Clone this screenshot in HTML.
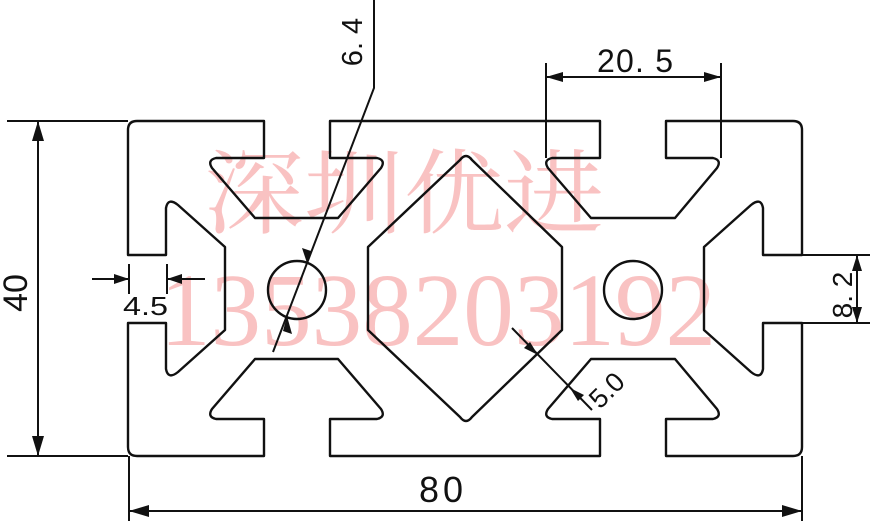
<!DOCTYPE html>
<html><head><meta charset="utf-8"><style>
html,body{margin:0;padding:0;background:#fff;}
svg{display:block;}
text{font-family:"Liberation Sans",sans-serif;fill:#111;}
</style></head><body>
<svg width="870" height="523" viewBox="0 0 870 523" xmlns="http://www.w3.org/2000/svg">
<g fill="#f9c2c2">
<text x="204" y="226" font-size="92" textLength="400" lengthAdjust="spacingAndGlyphs" style="font-family:'Noto Serif CJK SC','Noto Sans CJK SC',serif;fill:#f9c2c2">深圳优进</text>
<text x="160" y="345" font-size="104" textLength="556" lengthAdjust="spacingAndGlyphs" style="font-family:'Liberation Serif',serif;fill:#f9c2c2">13538203192</text>
</g>
<g fill="none" stroke="#111" stroke-width="2.4" stroke-linejoin="round">
<path d="M128,130 Q128,121 137,121 L264,121 L264,158 L216,158 Q207,160 212,168 L255,218 L338,218 L381,168 Q386,160 377,158 L330,158 L330,121 L600,121 L600,158 L552,158 Q543,160 548,168 L591,218 L675,218 L717,168 Q722,160 713,158 L666,158 L666,121 L793,121 Q802,121 802,130 L802,255 L763,255 L763,208 Q761,197 751,205 L704,247 L704,330 L751,372 Q761,380 763,369 L763,323 L802,323 L802,447 Q802,456 793,456 L666,456 L666,419 L713,419 Q722,417 717,409 L675,359 L591,359 L548,409 Q543,417 552,419 L600,419 L600,456 L330,456 L330,419 L377,419 Q386,417 381,409 L338,359 L255,359 L212,409 Q207,417 216,419 L264,419 L264,456 L137,456 Q128,456 128,447 L128,323 L166,323 L166,369 Q168,380 178,372 L225,330 L225,247 L178,205 Q168,197 166,208 L166,255 L128,255 Z"/>
<path d="M460,160 Q466,152 472,160 L562,247 L562,330 L472,417 Q466,425 460,417 L368,330 L368,247 Z"/>
<circle cx="297" cy="290" r="29"/>
<circle cx="633" cy="290" r="29"/>
</g>
<g stroke="#111" stroke-width="2" fill="none">
<line x1="7" y1="121" x2="128" y2="121"/>
<line x1="7" y1="456" x2="128" y2="456"/>
<line x1="38" y1="121" x2="38" y2="456"/>
<line x1="129" y1="456" x2="129" y2="521"/>
<line x1="802" y1="456" x2="802" y2="521"/>
<line x1="129" y1="511" x2="802" y2="511"/>
<line x1="546" y1="63" x2="546" y2="158"/>
<line x1="721" y1="63" x2="721" y2="158"/>
<line x1="546" y1="77" x2="721" y2="77"/>
<line x1="802" y1="255" x2="870" y2="255"/>
<line x1="802" y1="323" x2="870" y2="323"/>
<line x1="857" y1="255" x2="857" y2="323"/>
<line x1="129" y1="264" x2="129" y2="294"/>
<line x1="167" y1="264" x2="167" y2="294"/>
<line x1="92" y1="279" x2="129" y2="279"/>
<line x1="167" y1="279" x2="205" y2="279"/>
<polyline points="374,0 374,88 273,352"/>
<line x1="512" y1="328" x2="592" y2="410"/>
</g>
<g fill="#111">
<polygon points="38,121 32,141 44,141"/>
<polygon points="38,456 32,436 44,436"/>
<polygon points="129,511 149,505 149,517"/>
<polygon points="802,511 782,505 782,517"/>
<polygon points="546,77 563,72 563,82"/>
<polygon points="721,77 704,72 704,82"/>
<polygon points="857,255 852,271 862,271"/>
<polygon points="857,323 852,307 862,307"/>
<polygon points="129,279 114,274 114,284"/>
<polygon points="167,279 182,274 182,284"/>
<polygon points="307,263 302,248 311,251"/>
<polygon points="287,316 283,331 292,334"/>
<polygon points="538,355 530,342 524,348"/>
<polygon points="570,388 578,401 584,395"/>
</g>
<text x="443" y="502" font-size="36" text-anchor="middle" letter-spacing="4">80</text>
<text x="597" y="72" font-size="32" textLength="76" lengthAdjust="spacing">20. 5</text>
<text x="123" y="315" font-size="26" textLength="45" lengthAdjust="spacingAndGlyphs">4.5</text>
<text transform="translate(27,293) rotate(-90)" font-size="34" text-anchor="middle">40</text>
<text transform="translate(852,295) rotate(-90)" font-size="28" text-anchor="middle">8. 2</text>
<text transform="translate(362,42) rotate(-90)" font-size="29" text-anchor="middle">6. 4</text>
<text transform="translate(600,410) rotate(-45)" font-size="27">5.0</text>
</svg>
</body></html>
